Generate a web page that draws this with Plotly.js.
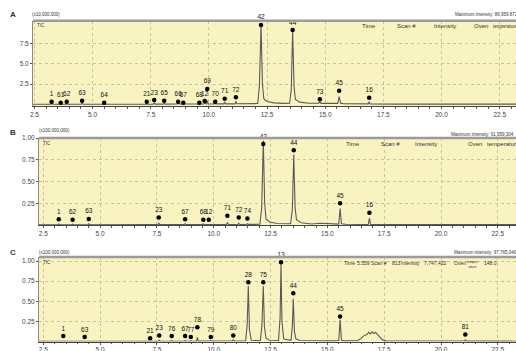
<!DOCTYPE html>
<html>
<head>
<meta charset="utf-8">
<script src="https://cdn.plot.ly/plotly-3.0.1.min.js"></script>
<style>html,body{margin:0;padding:0;background:#fff;}#chart{width:516px;height:351px;}</style>
</head>
<body>
<div id="chart"></div>
<script>
// ---------- data ----------
const xTickVals = [2.5, 5, 7.5, 10, 12.5, 15, 17.5, 20, 22.5];
const xTickText = ['2.5', '5.0', '7.5', '10.0', '12.5', '15.0', '17.5', '20.0', '22.5'];

// Panel A  (intensity x10,000,000)
const chromA_t = [2.44, 3.2, 3.24, 3.28, 3.6, 3.63, 3.66, 3.86, 3.89, 3.92, 4.51, 4.55, 4.59, 5.46, 5.5, 5.54, 7.0, 7.29, 7.33, 7.37, 7.61, 7.65, 7.69, 8.04, 8.08, 8.12, 8.4, 8.64, 8.68, 8.72, 8.86, 8.9, 8.94, 9.2, 9.55, 9.59, 9.63, 9.78, 9.82, 9.86, 9.9, 9.93, 9.97, 10.23, 10.27, 10.31, 10.64, 10.68, 10.72, 11.12, 11.16, 11.2, 11.6, 12.1, 12.17, 12.24, 12.3, 12.36, 12.5, 12.8, 13.2, 13.47, 13.54, 13.6, 13.66, 13.72, 13.9, 14.3, 14.72, 14.77, 14.82, 15.3, 15.54, 15.6, 15.66, 15.8, 16.5, 16.85, 16.89, 16.93, 18.0, 23.2];
const chromA_i = [0.02, 0.02, 0.12, 0.02, 0.02, 0.08, 0.02, 0.02, 0.1, 0.02, 0.02, 0.14, 0.02, 0.02, 0.08, 0.02, 0.03, 0.03, 0.12, 0.03, 0.03, 0.2, 0.03, 0.03, 0.15, 0.03, 0.04, 0.04, 0.14, 0.04, 0.04, 0.1, 0.04, 0.05, 0.05, 0.1, 0.05, 0.05, 0.16, 0.05, 0.05, 0.45, 0.05, 0.05, 0.12, 0.06, 0.06, 0.3, 0.06, 0.06, 0.4, 0.07, 0.07, 0.1, 2.2, 9.7, 2.6, 0.7, 0.35, 0.18, 0.12, 0.14, 1.8, 9.0, 2.2, 0.6, 0.28, 0.14, 0.14, 0.3, 0.12, 0.1, 0.12, 0.95, 0.15, 0.08, 0.06, 0.06, 0.32, 0.05, 0.03, 0.03];
const peaksA_t = [3.24, 3.63, 3.89, 4.55, 5.5, 7.33, 7.65, 8.08, 8.68, 8.9, 9.59, 9.82, 9.93, 10.27, 10.68, 11.16, 12.24, 13.6, 14.77, 15.6, 16.89];
const peaksA_i = [0.33, 0.21, 0.33, 0.46, 0.21, 0.33, 0.54, 0.46, 0.33, 0.21, 0.21, 0.42, 1.9, 0.33, 0.7, 0.87, 9.78, 9.16, 0.63, 1.69, 0.83];
const peaksA_id = ['1', '61', '62', '63', '64', '21', '23', '65', '66', '67', '68', '12', '69', '70', '71', '72', '42', '44', '73', '45', '16'];

// Panel B  (intensity x100,000,000)
const chromB_t = [2.31, 3.14, 3.18, 3.22, 3.75, 3.79, 3.83, 4.46, 4.5, 4.54, 7.2, 7.54, 7.58, 7.62, 8.0, 8.7, 8.74, 8.78, 9.5, 9.54, 9.58, 9.74, 9.78, 9.82, 10.56, 10.6, 10.64, 11.06, 11.1, 11.14, 11.44, 11.48, 11.52, 12.03, 12.11, 12.18, 12.24, 12.3, 12.45, 12.8, 13.38, 13.46, 13.52, 13.58, 13.64, 13.85, 14.3, 14.7, 15.2, 15.5, 15.56, 15.62, 15.8, 16.8, 16.85, 16.9, 18.0, 23.3];
const chromB_i = [0.003, 0.003, 0.012, 0.003, 0.003, 0.01, 0.003, 0.003, 0.015, 0.003, 0.004, 0.004, 0.02, 0.004, 0.005, 0.005, 0.015, 0.005, 0.005, 0.012, 0.005, 0.005, 0.012, 0.006, 0.006, 0.03, 0.006, 0.006, 0.02, 0.006, 0.006, 0.015, 0.007, 0.008, 0.2, 0.97, 0.25, 0.07, 0.035, 0.018, 0.015, 0.18, 0.81, 0.2, 0.06, 0.025, 0.012, 0.02, 0.01, 0.01, 0.19, 0.015, 0.008, 0.006, 0.08, 0.006, 0.004, 0.004];
const peaksB_t = [3.18, 3.79, 4.5, 7.58, 8.74, 9.54, 9.78, 10.6, 11.1, 11.48, 12.18, 13.52, 15.56, 16.85];
const peaksB_i = [0.067, 0.06, 0.07, 0.087, 0.067, 0.06, 0.06, 0.105, 0.087, 0.075, 0.93, 0.86, 0.25, 0.14];
const peaksB_id = ['1', '62', '63', '23', '67', '68', '12', '71', '72', '74', '42', '44', '45', '16'];

// Panel C  (intensity x100,000,000)
const chromC_t = [2.31, 3.34, 3.38, 3.42, 4.28, 4.32, 4.36, 7.16, 7.2, 7.24, 7.56, 7.6, 7.64, 8.11, 8.15, 8.19, 8.7, 8.74, 8.78, 8.95, 8.99, 9.03, 9.24, 9.28, 9.32, 9.83, 9.87, 9.91, 10.82, 10.86, 10.9, 11.4, 11.47, 11.52, 11.57, 11.65, 12.05, 12.12, 12.18, 12.23, 12.3, 12.45, 12.85, 12.92, 12.96, 13.0, 13.08, 13.4, 13.46, 13.5, 13.55, 13.62, 13.8, 15.2, 15.5, 15.56, 15.62, 15.8, 16.3, 16.45, 16.6, 16.75, 16.82, 16.9, 16.97, 17.05, 17.12, 17.2, 17.3, 17.42, 17.6, 19.0, 21.03, 21.07, 21.11, 23.3];
const chromC_i = [0.003, 0.003, 0.012, 0.003, 0.003, 0.01, 0.003, 0.004, 0.008, 0.004, 0.004, 0.016, 0.004, 0.004, 0.014, 0.004, 0.004, 0.014, 0.004, 0.004, 0.01, 0.004, 0.004, 0.05, 0.005, 0.006, 0.012, 0.006, 0.007, 0.02, 0.007, 0.008, 0.2, 0.69, 0.15, 0.015, 0.01, 0.2, 0.69, 0.18, 0.04, 0.015, 0.012, 0.3, 0.97, 0.25, 0.03, 0.015, 0.2, 0.53, 0.12, 0.03, 0.012, 0.008, 0.01, 0.27, 0.015, 0.008, 0.01, 0.03, 0.07, 0.09, 0.115, 0.095, 0.12, 0.1, 0.115, 0.09, 0.06, 0.02, 0.008, 0.006, 0.006, 0.02, 0.005, 0.004];
const peaksC_t = [3.38, 4.32, 7.2, 7.6, 8.15, 8.74, 8.99, 9.28, 9.87, 10.86, 11.52, 12.18, 12.96, 13.5, 15.56, 21.07];
const peaksC_i = [0.068, 0.056, 0.04, 0.076, 0.068, 0.068, 0.056, 0.177, 0.056, 0.076, 0.735, 0.735, 0.985, 0.6, 0.31, 0.088];
const peaksC_id = ['1', '63', '21', '23', '76', '67', '77', '78', '79', '80', '28', '75', '13', '44', '45', '81'];

// ---------- figure ----------
const W = 516, H = 351;
const px = v => v / W;
const py = v => 1 - v / H;
const lineStyle = {color: '#5a5a5a', width: 1.1};
const mk = {color: '#000', size: 4.5};
const lblFont = {family: 'Liberation Sans, Arial, sans-serif', size: 6.5, color: '#111'};

function chrom(t, i, xa, ya) {
  return {x: t, y: i, xaxis: xa, yaxis: ya, type: 'scatter', mode: 'lines', line: lineStyle, hoverinfo: 'skip'};
}
function peaks(t, i, ids, xa, ya) {
  return {x: t, y: i, text: ids, xaxis: xa, yaxis: ya, type: 'scatter', mode: 'markers+text',
    marker: mk, textposition: 'top center', textfont: lblFont, cliponaxis: false, hoverinfo: 'skip'};
}

const data = [
  chrom(chromA_t, chromA_i, 'x', 'y'),
  peaks(peaksA_t, peaksA_i, peaksA_id, 'x', 'y'),
  chrom(chromB_t, chromB_i, 'x2', 'y2'),
  peaks(peaksB_t, peaksB_i, peaksB_id, 'x2', 'y2'),
  chrom(chromC_t, chromC_i, 'x3', 'y3'),
  peaks(peaksC_t, peaksC_i, peaksC_id, 'x3', 'y3')
];

const tickFont = {family: 'Liberation Sans, Arial, sans-serif', size: 6.5, color: '#444'};
function xax(domainLeft, range, anchor) {
  return {domain: [domainLeft, 1], range: range, anchor: anchor,
    tickvals: xTickVals, ticktext: xTickText, tickfont: tickFont,
    ticks: 'outside', ticklen: 2, tickcolor: '#555',
    minor: {dtick: 0.5, tick0: 0, ticks: 'outside', ticklen: 1.5, tickcolor: '#555', showgrid: false},
    showgrid: true, gridcolor: '#c9c39a', griddash: 'dot', gridwidth: 1,
    showline: true, linecolor: '#444', linewidth: 1, zeroline: false, fixedrange: true};
}
function yax(domain, range, tv, tt, anchor) {
  return {domain: domain, range: range, anchor: anchor, tickvals: tv, ticktext: tt, tickfont: tickFont,
    ticks: 'outside', ticklen: 2, tickcolor: '#555',
    showgrid: true, gridcolor: '#c9c39a', griddash: 'dot', gridwidth: 1,
    showline: true, linecolor: '#8a8a8a', linewidth: 1, zeroline: false, fixedrange: true};
}

const ann = [];
function txt(x, y, s, size, anchor, extra) {
  ann.push(Object.assign({xref: 'paper', yref: 'paper', x: px(x), y: py(y), text: s, showarrow: false,
    xanchor: anchor || 'left', yanchor: 'middle',
    font: {family: 'Liberation Sans, Arial, sans-serif', size: size, color: '#333'}}, extra || {}));
}
// panel letters and units
txt(13, 15, '<b>A</b>', 8, 'center');
txt(13, 132, '<b>B</b>', 8, 'center');
txt(13, 253, '<b>C</b>', 8, 'center');
txt(30, 15, '(x10,000,000)', 4.5);
txt(37, 131, '(x100,000,000)', 4.5);
txt(37, 252, '(x100,000,000)', 4.5);
txt(35, 25, 'TIC', 4.5);
txt(41, 143, 'TIC', 4.5);
txt(41, 262, 'TIC', 4.5);
txt(453, 15, 'Maximum intensity: 86,959,872', 4.5);
txt(449, 134, 'Maximum intensity: 91,959,304', 4.5);
txt(452, 253, 'Maximum intensity: 97,765,040', 4.5);
// header rows
txt(369, 26, 'Time', 6, 'center');
txt(406, 26, 'Scan #', 6, 'center');
txt(445, 26, 'Intensity', 6, 'center');
txt(481, 26, 'Oven', 6, 'center');
txt(491, 26, 'temperature', 4.5);
txt(353, 144, 'Time', 6, 'center');
txt(390, 144, 'Scan #', 6, 'center');
txt(426, 144, 'Intensity', 6, 'center');
txt(475, 144, 'Oven', 6, 'center');
txt(485, 144, 'temperature', 6);
txt(349, 263, 'Time', 5, 'center');
txt(363, 263, '5.559', 5, 'center');
txt(379, 263, 'Scan #', 5, 'center');
txt(396, 263, '813', 5, 'center');
txt(410, 263, 'Intensity', 5, 'center');
txt(435, 263, '7,747,432', 5, 'center');
txt(460, 263, 'Oven', 5, 'center');
txt(473, 264, 'temper<br>ature', 3.5, 'center');
txt(482, 263, '148.0', 5);

const shapes = [['x', 'y'], ['x2', 'y2'], ['x3', 'y3']].map(([xa, ya]) => ({
  type: 'line', xref: xa + ' domain', yref: ya + ' domain', x0: 0, x1: 1, y0: 1, y1: 1,
  line: {color: '#9b9b9b', width: 2.5}
}));

const layout = {
  width: W, height: H, margin: {l: 0, r: 0, t: 0, b: 0},
  paper_bgcolor: '#ffffff', plot_bgcolor: '#f9f3c2', showlegend: false,
  font: {family: 'Liberation Sans, Arial, sans-serif'},
  xaxis: xax(px(33), [2.44, 23.2], 'y'),
  xaxis2: xax(px(39), [2.31, 23.3], 'y2'),
  xaxis3: xax(px(39), [2.31, 23.3], 'y3'),
  yaxis: yax([py(106), py(20.7)], [-0.2, 10.3], [2.5, 5, 7.5], ['2.5', '5.0', '7.5'], 'x'),
  yaxis2: yax([py(225), py(138)], [0, 1.0], [0.25, 0.5, 0.75, 1.0], ['0.25', '0.50', '0.75', '1.00'], 'x2'),
  yaxis3: yax([py(341.5), py(257)], [0, 1.05], [0.25, 0.5, 0.75, 1.0], ['0.25', '0.50', '0.75', '1.00'], 'x3'),
  annotations: ann, shapes: shapes
};

Plotly.newPlot('chart', data, layout, {displayModeBar: false, staticPlot: true});
</script>
</body>
</html>
